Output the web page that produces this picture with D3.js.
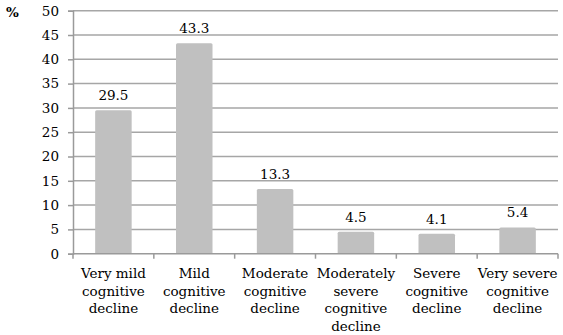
<!DOCTYPE html>
<html><head><meta charset="utf-8">
<script src="https://cdn.jsdelivr.net/npm/d3@7/dist/d3.min.js"></script>
<style>body{margin:0;background:#fff}svg{display:block}text{font-family:'DejaVu Serif',serif}</style>
</head><body><svg id="c" width="563" height="335"></svg>
<script>
const categories = [["Very mild","cognitive","decline"],["Mild","cognitive","decline"],["Moderate","cognitive","decline"],["Moderately","severe","cognitive","decline"],["Severe","cognitive","decline"],["Very severe","cognitive","decline"]];
const values = [29.5, 43.3, 13.3, 4.5, 4.1, 5.4];
const yTicks = [0,5,10,15,20,25,30,35,40,45,50];

(function(){
const FONT = "'DejaVu Serif', serif";
const FS = 13.5;
const svg = d3.select("#c");
const mLeft = 73, mRight = 558, mTop = 10.7, mBottom = 253.7;
const x = d3.scaleBand().domain(d3.range(values.length)).range([mLeft, mRight]).paddingInner(0).paddingOuter(0);
const y = d3.scaleLinear().domain([0,50]).range([mBottom, mTop]);

// gridlines
svg.append("g").selectAll("line").data(yTicks.filter(d=>d>0)).join("line")
  .attr("x1", mLeft).attr("x2", mRight).attr("y1", d=>y(d)).attr("y2", d=>y(d))
  .attr("stroke", "#a6a6a6").attr("stroke-width", 1.5);

// y axis
const ya = svg.append("g").attr("transform", `translate(${mLeft},0)`)
  .call(d3.axisLeft(y).tickValues(yTicks).tickSize(5).tickPadding(9));
ya.attr("font-family", FONT).attr("font-size", FS);
ya.select(".domain").attr("stroke", "#9a9a9a").attr("stroke-width", 1.5);
ya.selectAll(".tick line").attr("stroke", "#9a9a9a").attr("stroke-width", 1.5);
ya.selectAll(".tick text").attr("fill", "#000");

// bars
const bw = 36.5;
svg.append("g").selectAll("rect").data(values).join("rect")
  .attr("x", (d,i)=>x(i)+x.bandwidth()/2-bw/2).attr("width", bw)
  .attr("y", d=>y(d)).attr("height", d=>y(0)-y(d))
  .attr("rx", 1.5).attr("fill", "#c0c0c0");

// x axis
const xa = svg.append("g").attr("transform", `translate(0,${mBottom})`);
xa.append("line").attr("x1", mLeft).attr("x2", mRight).attr("stroke", "#9a9a9a").attr("stroke-width", 1.5);
xa.selectAll("line.t").data(d3.range(values.length+1)).join("line").attr("class","t")
  .attr("x1", i=>mLeft + i*x.bandwidth()).attr("x2", i=>mLeft + i*x.bandwidth())
  .attr("y1", 0).attr("y2", 5).attr("stroke", "#9a9a9a").attr("stroke-width", 1.5);

// category labels
const lab = svg.append("g").selectAll("text").data(categories).join("text")
  .attr("text-anchor", "middle").attr("font-size", FS).attr("font-family", FONT).attr("fill", "#000")
  .attr("x", (d,i)=>x(i)+x.bandwidth()/2);
lab.each(function(d,i){
  const t = d3.select(this);
  d.forEach((line,k)=>{
    t.append("tspan").attr("x", x(i)+x.bandwidth()/2).attr("y", 278 + k*17.5).text(line);
  });
});

// value labels
svg.append("g").selectAll("text").data(values).join("text")
  .attr("text-anchor", "middle").attr("font-size", FS).attr("font-family", FONT).attr("fill", "#000")
  .attr("x", (d,i)=>x(i)+x.bandwidth()/2).attr("y", d=>y(d)-10)
  .text(d=>d.toFixed(1));

// % label
svg.append("text").attr("x", 6).attr("y", 17).attr("font-size", FS).attr("font-family", FONT).attr("font-weight", "bold").attr("fill", "#000").text("%");
})();
</script></body></html>
